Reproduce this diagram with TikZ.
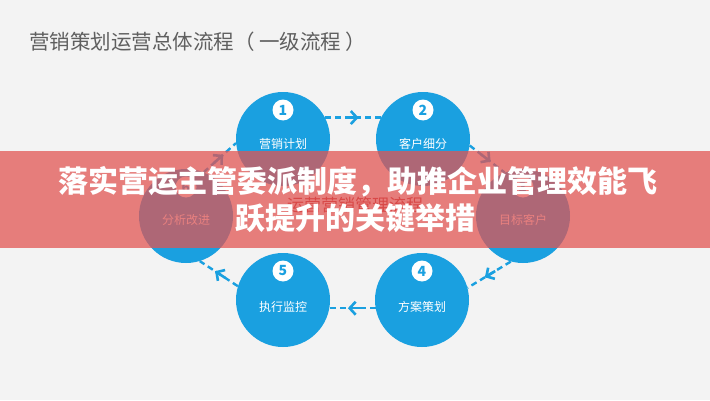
\documentclass[tikz,border=0pt]{standalone}
\usepackage{fontspec}
\setmainfont{Noto Sans CJK SC}
\usetikzlibrary{arrows.meta,decorations.markings}
\definecolor{bg}{RGB}{243,243,243}
\definecolor{cblue}{RGB}{26,160,224}
\definecolor{bannerred}{RGB}{226,84,82}
\definecolor{ttl}{RGB}{95,95,95}
\definecolor{hidred}{RGB}{190,40,40}
\begin{document}
\begin{tikzpicture}[x=1pt,y=1pt,
  stage/.style={circle,fill=cblue,minimum size=94pt,inner sep=0pt},
  numdot/.style={circle,fill=white,minimum size=21pt,inner sep=0pt,text=cblue,font=\bfseries\fontsize{14}{14}\selectfont},
  lbl/.style={text=white,inner sep=0pt,font=\fontsize{12}{12}\selectfont},
  flow/.style={cblue,line width=2.4pt,dash pattern=on 6pt off 4pt,postaction={decorate},
    decoration={markings,mark=at position 0.6 with {\draw[solid,line width=2.6pt] (-12pt,0) -- (-1pt,0); \arrow[line width=2.6pt]{Straight Barb[length=6pt,width=13pt]}}}},
  bannertext/.style={text=white,inner sep=0pt,font=\bfseries\fontsize{30}{30}\selectfont}
]
\fill[bg] (0,0) rectangle (710,400);
\useasboundingbox (0,0) rectangle (710,400);

\node[anchor=west,text=ttl,inner sep=0pt,font=\fontsize{20.5}{20.5}\selectfont] (title) at (29,358) {营销策划运营总体流程（ 一级流程 ）};

% stages
\node[stage] (C1) at (283,261) {};
\node[stage] (C2) at (423,261) {};
\node[stage] (C3) at (523,184) {};
\node[stage] (C4) at (422,100) {};
\node[stage] (C5) at (283,100) {};
\node[stage] (C6) at (186,184) {};

\node[numdot] (n1) at (283,290) {1};
\node[numdot] (n2) at (423,290) {2};
\node[numdot] (n3) at (523,213) {3};
\node[numdot] (n4) at (422,129) {4};
\node[numdot] (n5) at (283,129) {5};
\node[numdot] (n6) at (186,213) {6};

\node[lbl] (l1) at (283,256) {营销计划};
\node[lbl] (l2) at (423,256) {客户细分};
\node[lbl] (l3) at (523,180) {目标客户};
\node[lbl] (l4) at (422,93) {方案策划};
\node[lbl] (l5) at (283,93) {执行监控};
\node[lbl] (l6) at (186,180) {分析改进};

\node[text=hidred,inner sep=0pt,font=\fontsize{17}{17}\selectfont] (center) at (355,195) {运营营销管理流程};

% connectors
\draw[flow] (C1.27) -- (C2.153);
\draw[flow] (C2.-8) -- (C3.113);
\draw[flow] (C3.-105) -- (C4.15);
\draw[flow] (C4.190) -- (C5.-10);
\draw[flow] (C5.163) -- (C6.-73);
\draw[flow] (C6.68) -- (C1.185);

% banner
\fill[bannerred,opacity=0.74] (0,152) rectangle (710,249);
\node[bannertext] (b1) at (358,218) {落实营运主管委派制度，助推企业管理效能飞};
\node[bannertext] (b2) at (355,182) {跃提升的关键举措};
\end{tikzpicture}
\end{document}
